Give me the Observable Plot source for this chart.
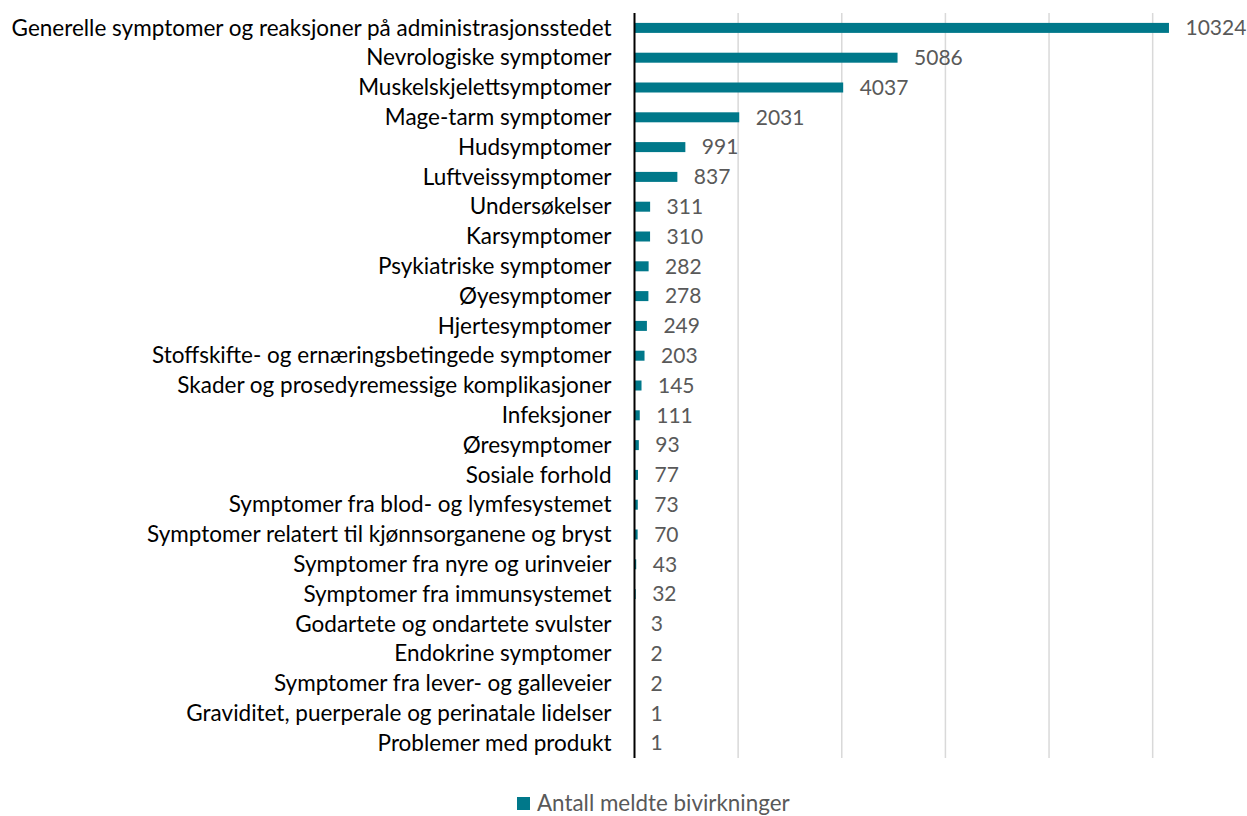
<!DOCTYPE html>
<html>
<head>
<meta charset="utf-8">
<script src="https://cdn.jsdelivr.net/npm/d3@7"></script>
<script src="https://cdn.jsdelivr.net/npm/@observablehq/plot@0.6"></script>
<style>
  html, body { margin: 0; padding: 0; background: #fff; }
  #chart { width: 1247px; }
  #chart svg { display: block; }
  .legend { box-sizing: border-box; width: 1247px; padding-left: 517px; margin-top: 20px; font-family: Lato, "Open Sans", sans-serif; font-size: 22.4px; color: #595959;
    display: flex; align-items: center; white-space: nowrap; height: 26px; line-height: 26px; }
  .legend .sw { flex: none; width: 13px; height: 13px; background: #00788A; margin-right: 7px; display: inline-block; }
</style>
</head>
<body>
<div id="chart"></div>
<script>
const categories = [
  "Generelle symptomer og reaksjoner på administrasjonsstedet",
  "Nevrologiske symptomer",
  "Muskelskjelettsymptomer",
  "Mage-tarm symptomer",
  "Hudsymptomer",
  "Luftveissymptomer",
  "Undersøkelser",
  "Karsymptomer",
  "Psykiatriske symptomer",
  "Øyesymptomer",
  "Hjertesymptomer",
  "Stoffskifte- og ernæringsbetingede symptomer",
  "Skader og prosedyremessige komplikasjoner",
  "Infeksjoner",
  "Øresymptomer",
  "Sosiale forhold",
  "Symptomer fra blod- og lymfesystemet",
  "Symptomer relatert til kjønnsorganene og bryst",
  "Symptomer fra nyre og urinveier",
  "Symptomer fra immunsystemet",
  "Godartete og ondartete svulster",
  "Endokrine symptomer",
  "Symptomer fra lever- og galleveier",
  "Graviditet, puerperale og perinatale lidelser",
  "Problemer med produkt"
];
const values = [10324, 5086, 4037, 2031, 991, 837, 311, 310, 282, 278, 249, 203, 145, 111, 93, 77, 73, 70, 43, 32, 3, 2, 2, 1, 1];
const gridTicks = [2000, 4000, 6000, 8000, 10000];
const seriesName = "Antall meldte bivirkninger";

const data = categories.map((c, i) => ({category: c, value: values[i]}));

const chart = Plot.plot({
  width: 1247,
  height: 770,
  marginLeft: 634,
  marginRight: 0,
  marginTop: 13,
  marginBottom: 12,
  style: {fontFamily: "Lato, 'Open Sans', sans-serif", fontSize: "22.5px", color: "#000", background: "#fff"},
  x: {domain: [0, 11830], axis: null},
  y: {domain: categories, padding: 0, round: false, label: null},
  marks: [
    Plot.ruleX(gridTicks, {stroke: "#d9d9d9", strokeWidth: 1.5}),
    Plot.barX(data, {x: "value", y: "category", fill: "#00788A", insetTop: 9.9, insetBottom: 9.9}),
    Plot.text(data, {x: "value", y: "category", text: d => String(d.value), textAnchor: "start", dx: 16, fill: "#595959", fontSize: 21}),
    Plot.ruleX([0], {stroke: "#000", strokeWidth: 2}),
    Plot.axisY({tickSize: 0, tickPadding: 23, label: null, fontSize: 22.5, fill: "#000"})
  ]
});
document.getElementById("chart").appendChild(chart);

const legend = document.createElement("div");
legend.className = "legend";
legend.innerHTML = `<span class="sw"></span><span>${seriesName}</span>`;
document.body.appendChild(legend);
</script>
</body>
</html>
